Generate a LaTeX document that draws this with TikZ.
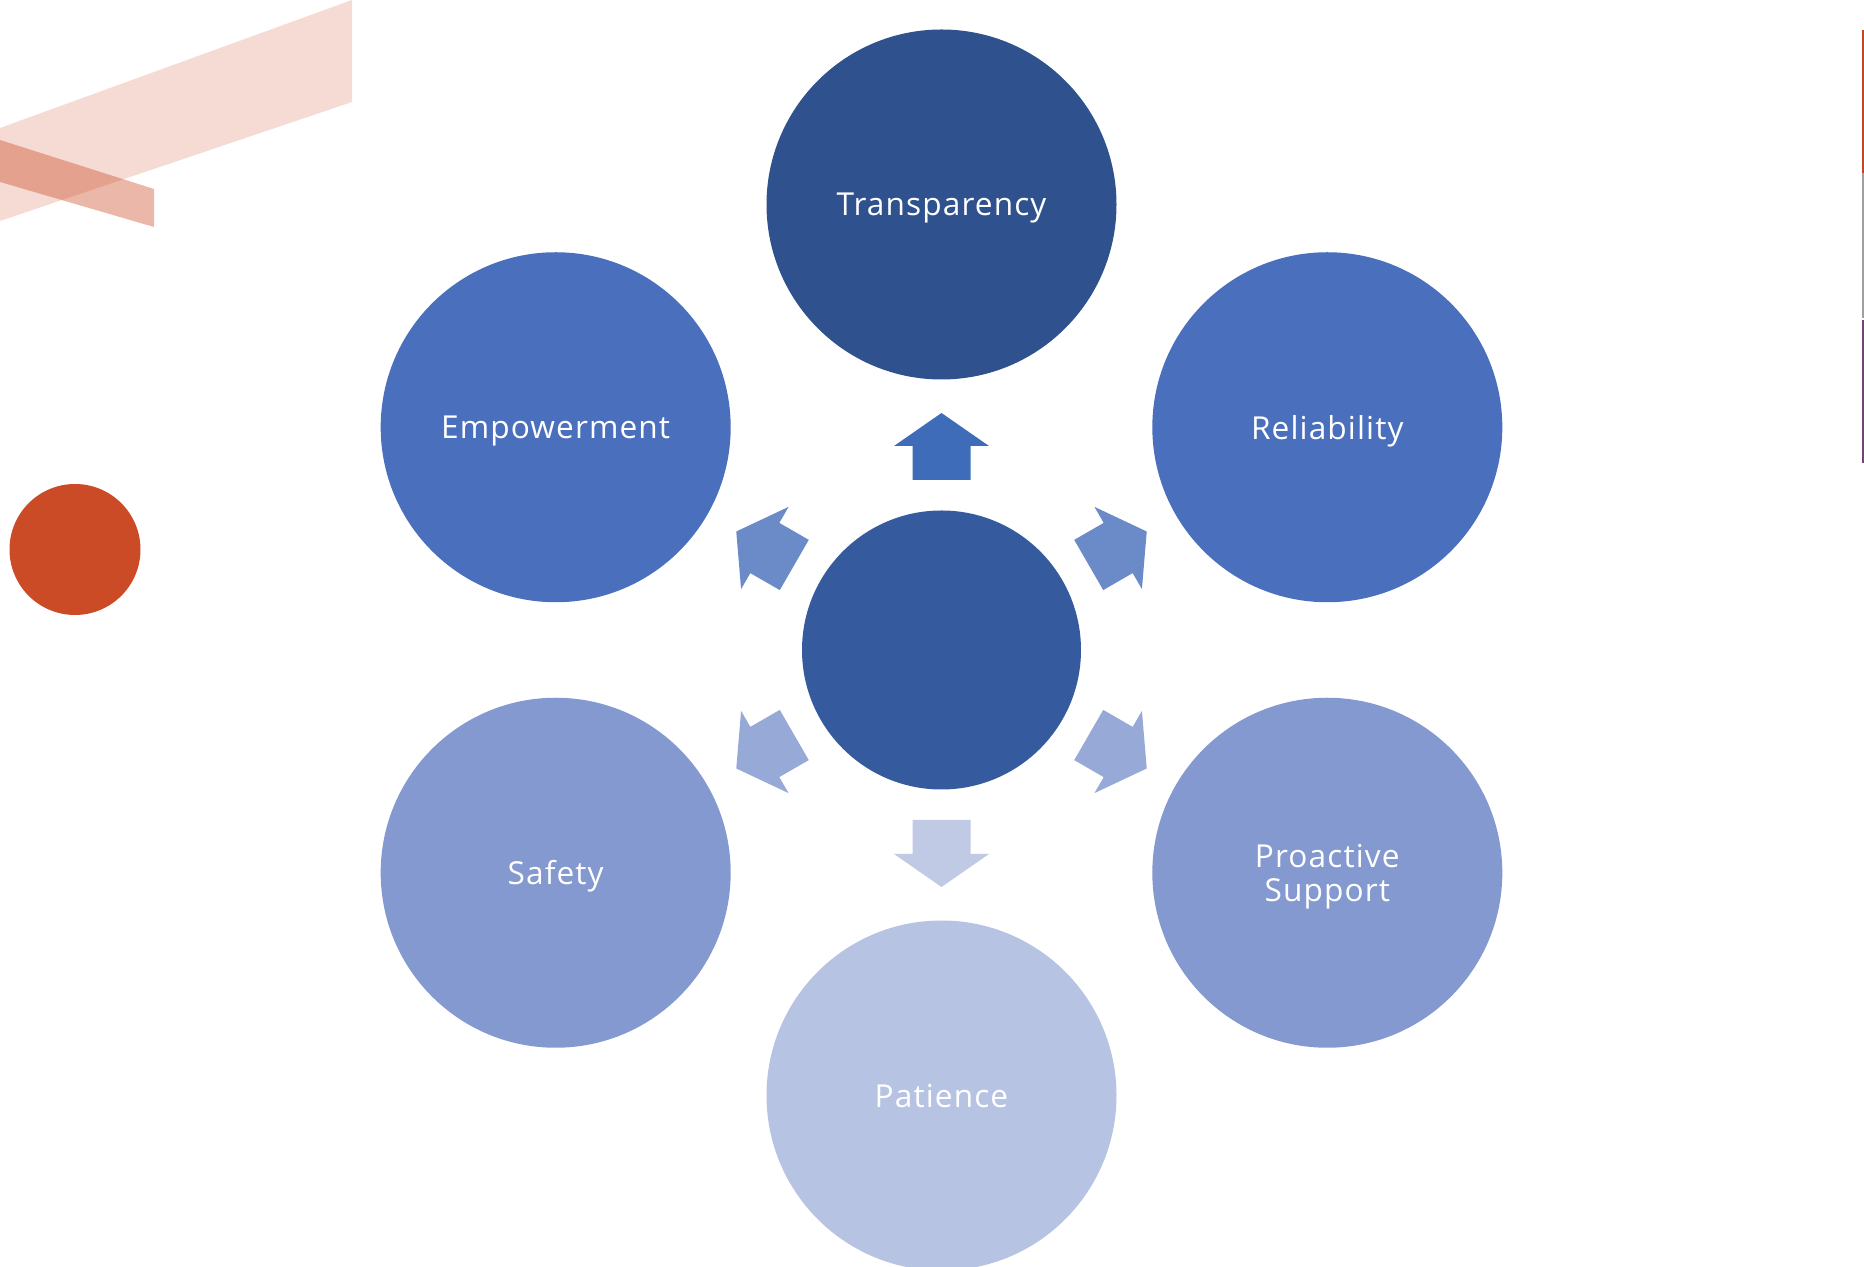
\documentclass[tikz,border=0pt]{standalone}
\usepackage{fontspec}
\setmainfont[LetterSpace=3.5]{Open Sans}
\usetikzlibrary{calc}

\definecolor{transC}{HTML}{2F528F}
\definecolor{empC}{HTML}{4A6FBD}
\definecolor{safeC}{HTML}{8399CF}
\definecolor{patC}{HTML}{B7C3E2}
\definecolor{hubC}{HTML}{355B9E}
\definecolor{arrA}{HTML}{3F6CB9}
\definecolor{arrB}{HTML}{6B8AC8}
\definecolor{arrC}{HTML}{97A9D6}
\definecolor{arrD}{HTML}{C0CAE5}
\definecolor{decoC}{HTML}{CB4B27}

\begin{document}
\begin{tikzpicture}[line cap=round,line join=round,
  bubble/.style={circle,minimum size=3.5cm,inner sep=0pt,text=white,
    align=center,text depth=0pt,font=\fontsize{9}{9.6}\selectfont},
  ]
  \def\dr{4.455} % distance hub - bubble
  \def\ra{1.70}  % arrow start
  \def\rb{2.04}  % arrow head base
  \def\rc{2.37}  % arrow tip
  \def\ws{0.29}  % half shaft
  \def\wh{0.475} % half head
  \useasboundingbox (0,0) rectangle (18.64,12.67);
  \clip (0,0) rectangle (18.64,12.67);
  % DECORATION
  \fill[decoC,opacity=0.2] (0,11.39) -- (3.52,12.67) -- (3.52,11.65) -- (0,10.46) -- cycle;
  \fill[decoC,opacity=0.4] (0,11.27) -- (1.54,10.78) -- (1.54,10.40) -- (0,10.85) -- cycle;
  \fill[decoC] (0.75,7.175) circle (0.655);
  \fill[decoC!95!black] (18.62,12.37) rectangle (18.64,10.94);
  \fill[gray!75] (18.62,10.94) rectangle (18.64,9.49);
  \fill[violet!40!gray!90!black] (18.62,9.47) rectangle (18.64,8.04);
  % HUB AND BUBBLES
  \coordinate (hub) at (9.415,6.17);
  \node[circle,fill=hubC,minimum size=2.79cm,inner sep=0pt] (core) at (hub) {};
  \node[bubble,fill=transC] (trans) at ($(hub)+(90:\dr)$)  {Transparency};
  \node[bubble,fill=empC]   (reli)  at ($(hub)+(30:\dr)$)  {Reliability};
  \node[bubble,fill=safeC]  (proa)  at ($(hub)+(-30:\dr)$) {Proactive\\Support};
  \node[bubble,fill=patC]   (pati)  at ($(hub)+(-90:\dr)$) {Patience};
  \node[bubble,fill=safeC]  (safe)  at ($(hub)+(210:\dr)$) {Safety};
  \node[bubble,fill=empC]   (empo)  at ($(hub)+(150:\dr)$) {Empowerment};
  % ARROWS
  \foreach \a/\c in {90/arrA,30/arrB,150/arrB,-30/arrC,210/arrC,-90/arrD}{
    \begin{scope}[shift={(hub)},rotate=\a]
      \fill[\c] (\ra,-\ws) -- (\rb,-\ws) -- (\rb,-\wh) -- (\rc,0)
        -- (\rb,\wh) -- (\rb,\ws) -- (\ra,\ws) -- cycle;
    \end{scope}
  }
\end{tikzpicture}
\end{document}
